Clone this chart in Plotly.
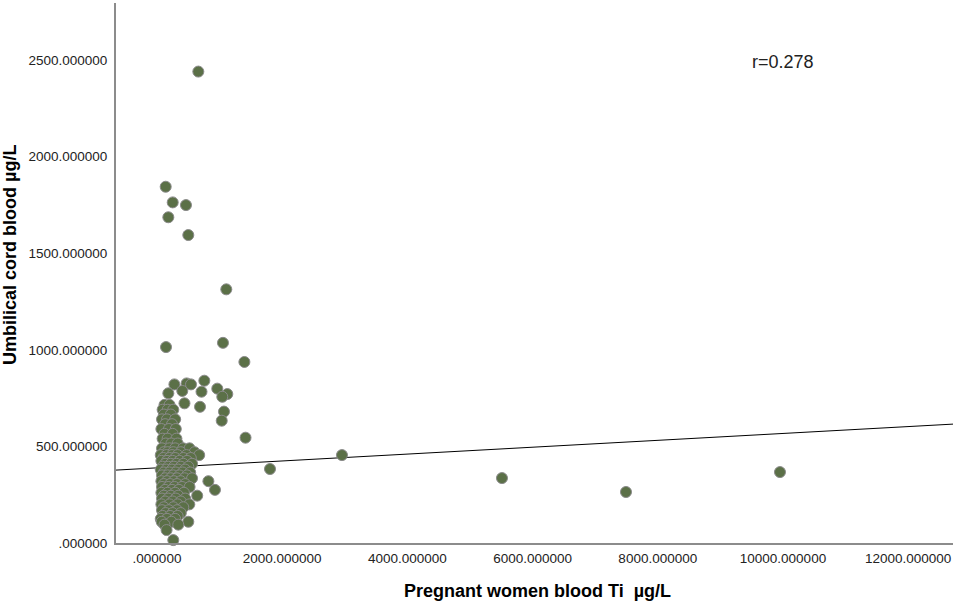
import plotly.graph_objects as go

# outlying / scattered points (Ti, ug/L)
outlier_x = [660, 139, 251, 463, 181, 500, 1107, 144, 1054, 1396, 1414, 1805, 2955, 5511, 7492, 9952,
             278, 473, 543, 756, 404, 181, 711, 963, 1123, 1043, 439, 687, 1070, 1034]
outlier_y = [2440, 1844, 1763, 1749, 1686, 1594, 1313, 1014, 1036, 937, 545, 383, 455, 336, 264, 367,
             821, 826, 821, 840, 787, 775, 783, 799, 771, 757, 723, 705, 680, 633]

# dense cluster near the origin, row by row
cluster_rows = {
    715: [120, 200],
    690: [90, 170, 260],
    665: [110, 220],
    640: [80, 160, 290],
    615: [130, 240],
    590: [70, 190, 300],
    565: [120, 250],
    540: [90, 170, 310],
    515: [140, 230, 330],
    490: [80, 200, 290, 418, 520],
    470: [110, 170, 260, 380, 600],
    455: [60, 150, 240, 330, 470, 674],
    440: [100, 200, 290, 420, 540],
    425: [70, 160, 250, 360, 480],
    410: [130, 220, 310, 420, 560],
    395: [90, 180, 270, 380, 500],
    380: [60, 150, 240, 340, 450],
    365: [110, 200, 300, 410, 530],
    350: [80, 170, 260, 360, 480],
    335: [130, 220, 320, 440, 560],
    320: [70, 160, 270, 380, 821],
    305: [110, 210, 320, 450],
    290: [80, 180, 280, 400, 520],
    275: [130, 240, 350, 926],
    260: [70, 170, 290, 430],
    245: [110, 220, 340, 642],
    230: [80, 180, 300, 450],
    215: [130, 250, 380],
    200: [70, 200, 330, 516],
    185: [110, 260, 420],
    170: [80, 190, 320],
    155: [140, 250, 380],
    140: [90, 210, 330],
    125: [60, 160, 290],
    110: [75, 230, 500],
    95: [120, 340],
    67: [153],
    15: [260],
}

cluster_x = [x for yv, xs in cluster_rows.items() for x in xs]
cluster_y = [yv for yv, xs in cluster_rows.items() for x in xs]

all_x = outlier_x + cluster_x
all_y = outlier_y + cluster_y

# fit line from the original chart
fit_intercept = 389
fit_slope = 0.0178
r_text = "r=0.278"

x_range = [-655, 12716]
y_range = [0, 2795]

x_ticks = [0, 2000, 4000, 6000, 8000, 10000, 12000]
x_ticktext = [".000000", "2000.000000", "4000.000000", "6000.000000", "8000.000000",
              "10000.000000", "12000.000000"]
y_ticks = [0, 500, 1000, 1500, 2000, 2500]
y_ticktext = [".000000", "500.000000", "1000.000000", "1500.000000", "2000.000000", "2500.000000"]

FONT = 'Liberation Sans, Arial'

fig = go.Figure()

fig.add_trace(go.Scatter(
    x=x_range,
    y=[fit_intercept + fit_slope * v for v in x_range],
    mode='lines',
    line=dict(color='black', width=1),
    hoverinfo='skip'
))

fig.add_trace(go.Scatter(
    x=all_x, y=all_y,
    mode='markers',
    marker=dict(size=11, color='#5b7047', line=dict(color='#8a8a8a', width=1)),
    cliponaxis=False
))

fig.add_annotation(x=10000, y=2490, text=r_text, showarrow=False,
                   font=dict(family=FONT, size=18, color='#222'))

# axis titles as annotations so they sit where the original puts them
fig.add_annotation(x=0, y=0.5, xref='paper', yref='paper', xshift=-106, yshift=18,
                   xanchor='center', yanchor='middle',
                   text='<b>Umbilical cord blood µg/L</b>', textangle=-90, showarrow=False,
                   font=dict(family=FONT, size=18, color='black'))
fig.add_annotation(x=0.504, y=0, xref='paper', yref='paper', yshift=-48,
                   xanchor='center', yanchor='middle',
                   text='<b>Pregnant women blood Ti  µg/L</b>', showarrow=False,
                   font=dict(family=FONT, size=18, color='black'))

fig.update_xaxes(
    range=x_range, tickvals=x_ticks, ticktext=x_ticktext,
    showgrid=False, zeroline=False, automargin=False,
    showline=True, linecolor='#8c8c8c', linewidth=2,
    ticks='', ticklabelstandoff=2,
    tickfont=dict(family=FONT, size=13.5, color='#222')
)
fig.update_yaxes(
    range=y_range, tickvals=y_ticks, ticktext=y_ticktext,
    showgrid=False, zeroline=False, automargin=False,
    showline=True, linecolor='#8c8c8c', linewidth=2,
    ticks='', ticklabelstandoff=4,
    tickfont=dict(family=FONT, size=13.5, color='#222')
)

fig.update_layout(
    width=957, height=606,
    margin=dict(l=116, r=4, t=3, b=63),
    showlegend=False,
    plot_bgcolor='white',
    paper_bgcolor='white'
)

# drop the page's default body margin so the figure fills the window
fig.write_html("out.html", config={'displayModeBar': False},
               post_script="document.body.style.margin='0';")
